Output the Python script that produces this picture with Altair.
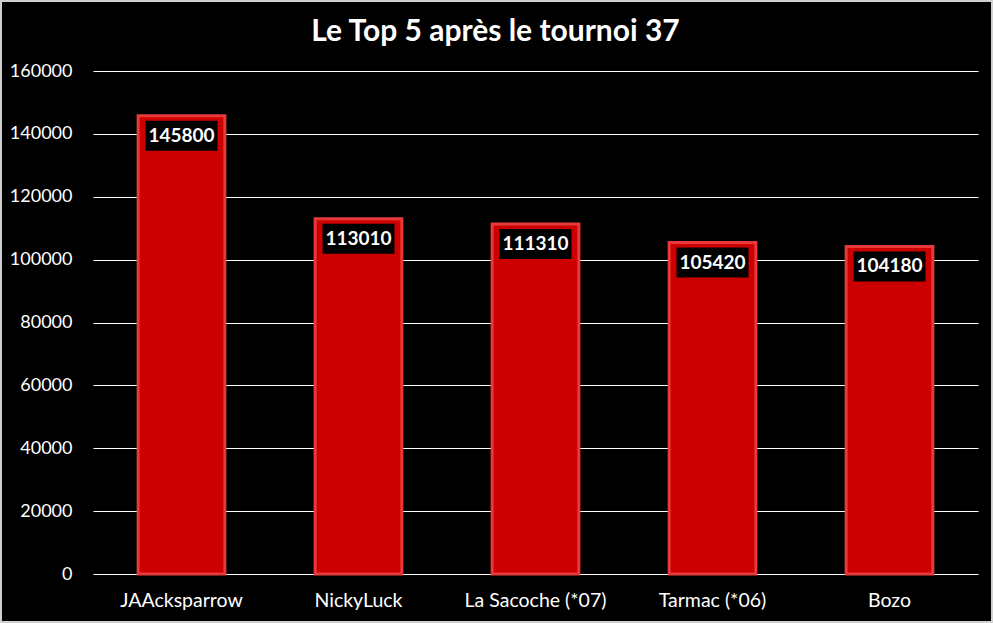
import altair as alt
import pandas as pd

players = ["JAAcksparrow", "NickyLuck", "La Sacoche (*07)", "Tarmac (*06)", "Bozo"]
points = [145800, 113010, 111310, 105420, 104180]
title_text = "Le Top 5 après le tournoi 37"

df = pd.DataFrame({"joueur": players, "points": points})

FONT = "Lato"
W, H = 885, 503

x = alt.X("joueur:N", sort=players, title=None,
          scale=alt.Scale(paddingInner=0.51, paddingOuter=0.255),
          axis=alt.Axis(labelAngle=0, labelColor="white", labelFont=FONT, labelFontSize=19.5,
                        labelPadding=17, ticks=False, domain=False))
y = alt.Y("points:Q", title=None,
          scale=alt.Scale(domain=[0, 160000]),
          axis=alt.Axis(values=list(range(0, 160001, 20000)), labelColor="white", labelFont=FONT,
                        labelFontSize=18, labelPadding=21, ticks=False, domain=False,
                        grid=True, gridColor="white", gridWidth=1, format="d"))

base = alt.Chart(df)
one = alt.Chart(pd.DataFrame({"t": [title_text]}))

frame = one.mark_rect(filled=False, stroke="#d0d0d0", strokeWidth=2).encode(
    x=alt.value(-92), x2=alt.value(W + 14), y=alt.value(-70), y2=alt.value(H + 48))

title = one.mark_text(color="white", font=FONT, fontSize=30, fontWeight="bold",
                      baseline="middle", align="center").encode(
    x=alt.value(402.5), y=alt.value(-39), text="t:N")

bars = base.mark_bar(color="#cc0000", stroke="#e83a3a", strokeWidth=3).encode(x=x, y=y)

boxes = base.mark_bar(color="black", width=72, yOffset=5, y2Offset=35).encode(
    x=x, y=y, y2=alt.Y2("points:Q"))

labels = base.mark_text(color="white", font=FONT, fontSize=19, fontWeight="bold",
                        baseline="middle", dy=20).encode(x=x, y=y, text=alt.Text("points:Q", format="d"))

chart = alt.layer(frame, title, bars, boxes, labels).properties(
    width=W, height=H,
    autosize=alt.AutoSizeParams(type="none"),
    padding={"left": 93, "top": 71, "right": 15, "bottom": 49},
    background="black",
).configure_view(strokeWidth=0)

chart.save("out.html", embed_options={"renderer": "svg", "actions": False})
